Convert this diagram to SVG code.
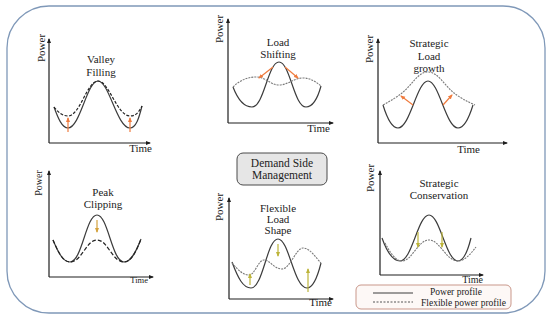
<svg xmlns="http://www.w3.org/2000/svg" width="550" height="323" viewBox="0 0 550 323">
<defs>
<style>
.t{font-family:"Liberation Serif","DejaVu Serif",serif;fill:#222;}
.ax{stroke:#1e1e1e;stroke-width:1.2;fill:none;}
.sol{stroke:#3c3c3c;stroke-width:1.2;fill:none;}
.dk{stroke:#222;stroke-width:1.2;fill:none;stroke-dasharray:3 1.6;}
.gr{stroke:#7a7a7a;stroke-width:1.1;fill:none;stroke-dasharray:2 1;}
.or{stroke:#ef7b3e;stroke-width:1.2;fill:none;}
.gd{stroke:#d4a23c;stroke-width:1.2;fill:none;}
.ol{stroke:#bdb43a;stroke-width:1.2;fill:none;}
</style>
<marker id="mAx" markerWidth="5" markerHeight="5" refX="4" refY="2.5" orient="auto" markerUnits="userSpaceOnUse"><path d="M0,0.5 L5,2.5 L0,4.5 Z" fill="#1e1e1e"/></marker>
<marker id="mOr" markerWidth="5" markerHeight="5" refX="4" refY="2.5" orient="auto" markerUnits="userSpaceOnUse"><path d="M0,0.5 L5,2.5 L0,4.5 Z" fill="#ef7b3e"/></marker>
<marker id="mGd" markerWidth="5" markerHeight="5" refX="4" refY="2.5" orient="auto" markerUnits="userSpaceOnUse"><path d="M0,0.5 L5,2.5 L0,4.5 Z" fill="#d4a23c"/></marker>
<marker id="mOl" markerWidth="5" markerHeight="5" refX="4" refY="2.5" orient="auto" markerUnits="userSpaceOnUse"><path d="M0,0.5 L5,2.5 L0,4.5 Z" fill="#bdb43a"/></marker>
</defs>
<rect x="0" y="0" width="550" height="323" fill="#ffffff"/>
<rect id="frame" x="7" y="6" width="538" height="307" rx="42" ry="42" fill="none" stroke="#7f98b8" stroke-width="1.3"/>

<g id="valley-filling">
<path class="ax" d="M49,143 L49,39" marker-end="url(#mAx)"/>
<path class="ax" d="M49,143 L150,143" marker-end="url(#mAx)"/>
<text class="t" font-size="11" text-anchor="middle" transform="translate(45,48) rotate(-90)">Power</text>
<text class="t" font-size="11" text-anchor="end" x="152" y="152">Time</text>
<text class="t" font-size="11" text-anchor="middle" x="101" y="63">Valley</text>
<text class="t" font-size="11" text-anchor="middle" x="101" y="76">Filling</text>
<path class="sol" d="M54,107 C58,118 62,128 68,128 C80,128 87,81 98,81 C109,81 117,128 130,128 C136,128 139,118 142,106"/>
<path class="dk" d="M54,107 C58,112 62,116 68,116 C80,116 87,81 98,81 C109,81 117,116 130,116 C136,116 139,112 142,106"/>
<path class="or" d="M68,132 L68,118" marker-end="url(#mOr)"/>
<path class="or" d="M130,132 L130,118" marker-end="url(#mOr)"/>
</g>

<g id="load-shifting">
<path class="ax" d="M228,123 L228,19" marker-end="url(#mAx)"/>
<path class="ax" d="M228,123 L333,123" marker-end="url(#mAx)"/>
<text class="t" font-size="11" text-anchor="middle" transform="translate(223,29) rotate(-90)">Power</text>
<text class="t" font-size="11" text-anchor="end" x="330" y="132">Time</text>
<text class="t" font-size="11" text-anchor="middle" x="278" y="46">Load</text>
<text class="t" font-size="11" text-anchor="middle" x="278" y="58">Shifting</text>
<path class="sol" d="M233,87 C238,100 244,107 252,107 C264,107 268,62 279,62 C290,62 294,107 306,107 C314,107 318,97 321,86"/>
<path class="gr" d="M233,87 C240,80 248,77 256,77 C266,77 270,85 279,85 C288,85 294,78 303,78 C311,78 316,82 321,86"/>
<path class="or" d="M273,67 L259,78" marker-end="url(#mOr)"/>
<path class="or" d="M285,67 L298,78" marker-end="url(#mOr)"/>
</g>

<g id="strategic-load-growth">
<path class="ax" d="M378,143 L378,39" marker-end="url(#mAx)"/>
<path class="ax" d="M378,143 L507,143" marker-end="url(#mAx)"/>
<text class="t" font-size="11" text-anchor="middle" transform="translate(373,49) rotate(-90)">Power</text>
<text class="t" font-size="11" text-anchor="end" x="480" y="153">Time</text>
<text class="t" font-size="11" text-anchor="middle" x="429" y="47">Strategic</text>
<text class="t" font-size="11" text-anchor="middle" x="429" y="60">Load</text>
<text class="t" font-size="11" text-anchor="middle" x="429" y="72">growth</text>
<path class="sol" d="M383,105 C387,118 392,128 398,128 C410,128 417,81 428,81 C439,81 446,128 458,128 C464,128 469,118 473,105"/>
<path class="gr" d="M383,105 C392,100 397,97 402,93 C412,85 418,72 428,72 C438,72 444,85 454,93 C459,97 466,101 475,105"/>
<path class="or" d="M413,105 L401,96" marker-end="url(#mOr)"/>
<path class="or" d="M443,105 L452,95" marker-end="url(#mOr)"/>
</g>

<g id="peak-clipping">
<path class="ax" d="M49,277 L49,171" marker-end="url(#mAx)"/>
<path class="ax" d="M49,277 L153,277" marker-end="url(#mAx)"/>
<text class="t" font-size="10" text-anchor="middle" transform="translate(42,183) rotate(-90)">Power</text>
<text class="t" font-size="8.5" text-anchor="end" x="148" y="283">Time</text>
<text class="t" font-size="11" text-anchor="middle" x="103" y="196">Peak</text>
<text class="t" font-size="11" text-anchor="middle" x="103" y="208">Clipping</text>
<path class="sol" d="M53,240 C58,252 63,262 70,262 C82,262 86,215 97,215 C108,215 112,262 124,262 C131,262 136,252 141,239"/>
<path class="dk" style="stroke-dasharray:4 2" d="M53,240 C58,252 63,262 70,262 C82,262 86,240 97,240 C108,240 112,262 124,262 C131,262 136,252 141,239"/>
<path class="gd" d="M97,220 L97,232" marker-end="url(#mGd)"/>
</g>

<g id="flexible-load-shape">
<path class="ax" d="M229,299 L229,198" marker-end="url(#mAx)"/>
<path class="ax" d="M229,299 L333,299" marker-end="url(#mAx)"/>
<text class="t" font-size="11" text-anchor="middle" transform="translate(223,207) rotate(-90)">Power</text>
<text class="t" font-size="11" text-anchor="end" x="332" y="306">Time</text>
<text class="t" font-size="11" text-anchor="middle" x="278" y="212">Flexible</text>
<text class="t" font-size="11" text-anchor="middle" x="278" y="223">Load</text>
<text class="t" font-size="11" text-anchor="middle" x="278" y="234">Shape</text>
<path class="sol" d="M232,262 C238,278 243,288 251,288 C263,288 267,239 278,239 C289,239 294,288 307,288 C313,288 318,275 321,263"/>
<path class="gr" d="M232,263 C238,270 243,275 249,275 C255,275 258,260 264,260 C270,260 274,269 282,269 C290,269 296,248 303,248 C310,248 316,258 321,263"/>
<path class="ol" d="M250,285 L250,274" marker-end="url(#mOl)"/>
<path class="ol" d="M278,244 L278,256" marker-end="url(#mOl)"/>
<path class="ol" d="M308,292 L308,269" marker-end="url(#mOl)"/>
</g>

<g id="strategic-conservation">
<path class="ax" d="M380,275 L380,171" marker-end="url(#mAx)"/>
<path class="ax" d="M380,275 L483,275" marker-end="url(#mAx)"/>
<text class="t" font-size="11" text-anchor="middle" transform="translate(374,178) rotate(-90)">Power</text>
<text class="t" font-size="11" text-anchor="middle" x="439" y="187">Strategic</text>
<text class="t" font-size="11" text-anchor="middle" x="439" y="199">Conservation</text>
<path class="sol" d="M382,238 C387,252 393,261 400,261 C412,261 418,215 429,215 C440,215 446,261 458,261 C464,261 468,250 471,238"/>
<path class="gr" d="M385,243 C390,252 395,261 402,261 C412,261 418,240 429,240 C440,240 446,261 458,261 C464,261 470,255 476,247"/>
<path class="ol" d="M418,232 L418,247" marker-end="url(#mOl)"/>
<path class="ol" d="M442,232 L442,247" marker-end="url(#mOl)"/>
</g>

<g id="dsm">
<rect x="237" y="153" width="90" height="32" rx="6" ry="6" fill="#e6e6e6" stroke="#4a4a4a" stroke-width="1"/>
<text class="t" font-size="11.5" text-anchor="middle" x="282" y="167">Demand Side</text>
<text class="t" font-size="11.5" text-anchor="middle" x="282" y="179">Management</text>
</g>

<g id="legend">
<rect x="356" y="285" width="155" height="24" rx="5" ry="5" fill="#fdf8f6" stroke="#c9978a" stroke-width="1"/>
<line x1="373" y1="293" x2="413" y2="293" stroke="#3c3c3c" stroke-width="1"/>
<line x1="373" y1="302" x2="413" y2="302" stroke="#555" stroke-width="1" stroke-dasharray="2 1.5"/>
<text class="t" font-size="9.5" x="430" y="295">Power profile</text>
<text class="t" font-size="9.5" x="421" y="305.5">Flexible power profile</text>
</g>
<text class="t" font-size="10" text-anchor="end" x="483" y="283">Time</text>
</svg>
